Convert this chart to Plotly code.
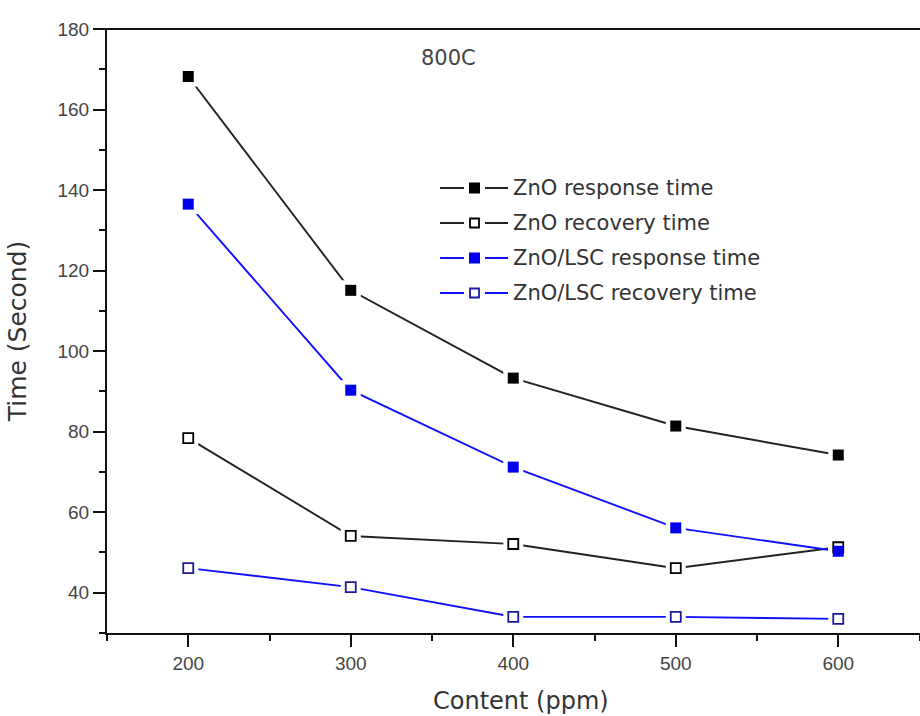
import plotly.graph_objects as go

conc = [200, 300, 400, 500, 600]
zno_resp = [168.2, 115.1, 93.3, 81.4, 74.2]
zno_rec = [78.4, 54.1, 52.1, 46.1, 51.3]
lsc_resp = [136.5, 90.3, 71.2, 56.1, 50.3]
lsc_rec = [46.1, 41.4, 34.0, 34.0, 33.5]

names = ["ZnO response time", "ZnO recovery time", "ZnO/LSC response time", "ZnO/LSC recovery time"]
series = [zno_resp, zno_rec, lsc_resp, lsc_rec]
colors = ["#222222", "#222222", "#1010ff", "#1010ff"]
edge = ["#000000", "#000000", "#0000ee", "#1a1aa0"]
filled = [True, False, True, False]

# plot area in pixels (for layout-only placement of the legend / notes)
L, R, T, B = 107, 920, 29, 633
def px(x):
    return (x - L) / (R - L)
def py(y):
    return (B - y) / (B - T)

fig = go.Figure()
for ys, c in zip(series, colors):
    fig.add_trace(go.Scatter(x=conc, y=ys, mode="lines", line=dict(color=c, width=1.9),
                             showlegend=False, hoverinfo="skip"))
for ys in series:
    fig.add_trace(go.Scatter(x=conc, y=ys, mode="markers",
                             marker=dict(symbol="square", size=20, color="white", line=dict(width=0)),
                             showlegend=False, hoverinfo="skip"))
for nm, ys, c, e, f in zip(names, series, colors, edge, filled):
    fig.add_trace(go.Scatter(x=conc, y=ys, mode="markers", name=nm, showlegend=False,
                             marker=dict(symbol="square", size=11 if f else 10,
                                         color=(e if f else "white"),
                                         line=dict(color=e, width=0 if f else 1.8))))

# manual Origin-style legend
shapes = [dict(type="line", xref="paper", yref="paper", x0=-0.015, x1=1, y0=1, y1=1,
               line=dict(color="#111111", width=2.2))]
annotations = []
for i, (nm, c, e, f) in enumerate(zip(names, colors, edge, filled)):
    yy = 188 + 35 * i
    shapes.append(dict(type="line", xref="paper", yref="paper", x0=px(440), x1=px(464),
                       y0=py(yy), y1=py(yy), line=dict(color=c, width=2)))
    shapes.append(dict(type="line", xref="paper", yref="paper", x0=px(485), x1=px(508),
                       y0=py(yy), y1=py(yy), line=dict(color=c, width=2)))
    if f:
        shapes.append(dict(type="rect", xref="paper", yref="paper", x0=px(469), x1=px(480),
                           y0=py(yy + 5.5), y1=py(yy - 5.5), fillcolor=e, line=dict(width=0)))
    else:
        shapes.append(dict(type="rect", xref="paper", yref="paper", x0=px(470), x1=px(479),
                           y0=py(yy + 4.5), y1=py(yy - 4.5), fillcolor="white",
                           line=dict(color=e, width=1.8)))
    annotations.append(dict(text=nm, xref="paper", yref="paper", x=px(511), y=py(yy),
                            xanchor="left", yanchor="middle", showarrow=False,
                            font=dict(size=21, color="#333333", family="DejaVu Sans")))

annotations += [
    dict(text="800C", xref="paper", yref="paper", x=px(448), y=py(58),
         xanchor="center", yanchor="middle", showarrow=False,
         font=dict(size=21, color="#444444", family="DejaVu Sans")),
    dict(text="Content (ppm)", xref="paper", yref="paper", x=px(431), y=py(701),
         xanchor="left", yanchor="middle", showarrow=False,
         font=dict(size=24, color="#333333", family="DejaVu Sans")),
]

fig.update_layout(
    width=920, height=716,
    margin=dict(l=L, r=0, t=T, b=716 - B),
    paper_bgcolor="white", plot_bgcolor="white",
    font=dict(family="Liberation Sans, Arial", color="#333333"),
    showlegend=False,
    xaxis=dict(range=[150, 650.3], tickvals=conc, ticktext=[str(v) for v in conc],
               showgrid=False, zeroline=False,
               showline=True, linecolor="#111111", linewidth=2.2,
               ticks="outside", ticklen=12, tickwidth=2, tickcolor="#111111",
               minor=dict(ticks="outside", ticklen=6, tickwidth=2, tickcolor="#111111", dtick=50, tick0=150),
               tickfont=dict(size=19, color="#444444")),
    yaxis=dict(range=[30, 180], tickvals=[40, 60, 80, 100, 120, 140, 160, 180],
               showgrid=False, zeroline=False,
               showline=True, linecolor="#111111", linewidth=2.2,
               ticks="outside", ticklen=12, tickwidth=2, tickcolor="#111111",
               minor=dict(ticks="outside", ticklen=6, tickwidth=2, tickcolor="#111111", dtick=10, tick0=30),
               tickfont=dict(size=19, color="#444444"),
               title=dict(text="Time (Second)", font=dict(size=25, color="#333333", family="DejaVu Sans"),
                          standoff=24)),
    shapes=shapes,
    annotations=annotations,
)

fig.write_html("out.html")
